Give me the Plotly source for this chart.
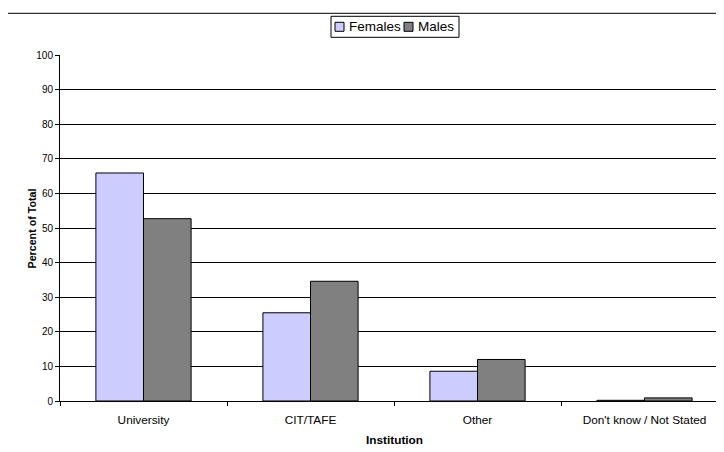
import plotly.graph_objects as go

categories = ["University", "CIT/TAFE", "Other", "Don't know / Not Stated"]
females = [65.9, 25.5, 8.6, 0.2]
males = [52.7, 34.6, 12.0, 0.9]
y_ticks = [0, 10, 20, 30, 40, 50, 60, 70, 80, 90, 100]
female_color = "#CCCCFF"
male_color = "#808080"

# The page body has an 8px margin; work in page pixels and convert.
OFF = 8
W, H = 724, 452
PL, PR, PT, PB = 60, 728, 54.7, 400.7          # plot box in page pixels
ML, MT = PL - OFF, PT - OFF
MR = W - (PR - OFF)
MB = H - (PB - OFF)
plot_w = PR - PL
plot_h = PB - PT

def px(x):
    return (x - PL) / plot_w

def py(y):
    return (PB - y) / plot_h

font_family = "Liberation Sans, Arial, sans-serif"

fig = go.Figure()
fig.add_trace(go.Bar(name="Females", x=categories, y=females, showlegend=False,
                     marker=dict(color=female_color, line=dict(color="#000000", width=1))))
fig.add_trace(go.Bar(name="Males", x=categories, y=males, showlegend=False,
                     marker=dict(color=male_color, line=dict(color="#000000", width=1))))

shapes = [
    # outer chart border
    dict(type="rect", xref="paper", yref="paper",
         x0=px(7), x1=px(760), y0=py(480), y1=py(13),
         line=dict(color="#000000", width=1), fillcolor="rgba(0,0,0,0)", layer="below"),
    # legend box
    dict(type="rect", xref="paper", yref="paper",
         x0=px(331), x1=px(459), y0=py(37), y1=py(16),
         line=dict(color="#000000", width=1), fillcolor="white"),
    # legend swatches
    dict(type="rect", xref="paper", yref="paper",
         x0=px(335), x1=px(344), y0=py(31), y1=py(22),
         line=dict(color="#000000", width=1), fillcolor=female_color),
    dict(type="rect", xref="paper", yref="paper",
         x0=px(404), x1=px(413), y0=py(31), y1=py(22),
         line=dict(color="#000000", width=1), fillcolor=male_color),
]

annotations = [
    dict(text="Females", xref="paper", yref="paper", x=px(347), y=py(26.5),
         xanchor="left", yanchor="middle", showarrow=False,
         font=dict(size=13.5, family=font_family, color="#000000")),
    dict(text="Males", xref="paper", yref="paper", x=px(416), y=py(26.5),
         xanchor="left", yanchor="middle", showarrow=False,
         font=dict(size=13.5, family=font_family, color="#000000")),
    dict(text="<b>Institution</b>", xref="paper", yref="paper", x=px(394), y=py(440),
         xanchor="center", yanchor="middle", showarrow=False,
         font=dict(size=11.8, family=font_family, color="#000000")),
    dict(text="<b>Percent of Total</b>", xref="paper", yref="paper", x=px(31.5),
         y=py((PT + PB) / 2), textangle=-90, xanchor="center", yanchor="middle",
         showarrow=False, font=dict(size=10.7, family=font_family, color="#000000")),
]

fig.update_layout(
    width=W, height=H,
    margin=dict(l=ML, r=MR, t=MT, b=MB, pad=0),
    paper_bgcolor="white", plot_bgcolor="white",
    font=dict(family=font_family, color="#000000", size=10),
    barmode="group", bargap=0.43, bargroupgap=0,
    showlegend=False,
    xaxis=dict(range=[-0.5, 3.5], tickson="boundaries", ticks="outside",
               ticklen=4, tickcolor="#000000", showline=True, linecolor="#000000",
               linewidth=1, showgrid=False, tickfont=dict(size=11.8),
               ticklabelstandoff=8),
    yaxis=dict(range=[0, 100], tickvals=y_ticks, ticks="outside", ticklen=4,
               tickcolor="#000000", showline=True, linecolor="#000000", linewidth=1,
               showgrid=True, gridcolor="#000000", gridwidth=1, zeroline=False,
               tickfont=dict(size=10)),
    shapes=shapes,
    annotations=annotations,
)

fig.write_html("out.html")
